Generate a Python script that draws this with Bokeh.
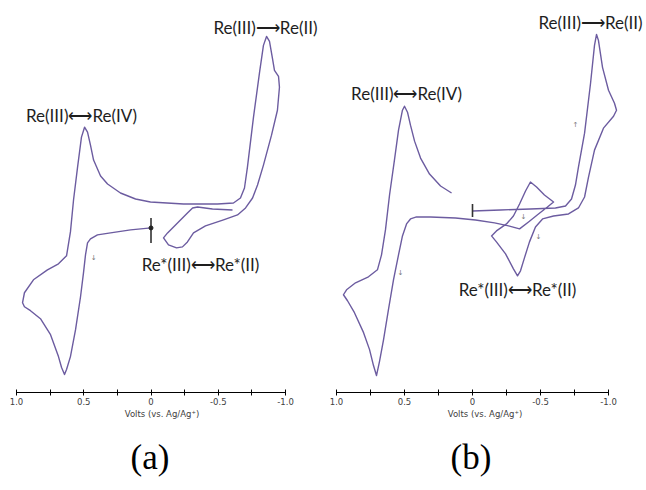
from bokeh.plotting import figure
from bokeh.models import FixedTicker, Label, Range1d, Title
from bokeh.layouts import row
from bokeh.embed import file_html
from bokeh.resources import INLINE

# ---------------- data (volts vs Ag/Ag+, current in arbitrary units) ----------------
a_volts = [0.00, 0.152, 0.301, 0.398, 0.450, 0.472, 0.487, 0.502, 0.524, 0.561, 0.599, 0.628, 0.643,
           0.665, 0.688, 0.747, 0.822, 0.896, 0.941, 0.955, 0.941, 0.874, 0.770, 0.688, 0.628, 0.599,
           0.576, 0.546, 0.517, 0.494, 0.472, 0.450, 0.427, 0.375, 0.323, 0.227, 0.115, 0.004, -0.242,
           -0.494, -0.613, -0.665, -0.695, -0.717, -0.762, -0.807, -0.836, -0.859, -0.881, -0.903,
           -0.918, -0.948, -0.955, -0.940, -0.896, -0.836, -0.792, -0.755, -0.703, -0.643, -0.539,
           -0.405, -0.316, -0.271, -0.234, -0.190, -0.130, -0.093, -0.123, -0.197, -0.271, -0.309,
           -0.346, -0.457, -0.606]
a_current = [165, 163, 160, 158, 154, 150, 138, 120, 96, 63, 36, 23, 18,
             25, 36, 58, 74, 82, 86, 90, 100, 113, 123, 129, 137, 161,
             193, 226, 256, 266, 261, 248, 233, 217, 209, 200, 194, 191, 189,
             189, 190, 195, 205, 226, 276, 321, 348, 357, 352, 335,
             323, 317, 306, 283, 258, 228, 208, 195, 185, 178, 173,
             167, 160, 151, 146, 145, 148, 155, 160, 170, 180, 185,
             186, 184, 183]

b_volts = [0.000, -0.206, -0.426, -0.610, -0.684, -0.728, -0.757, -0.779, -0.824, -0.868, -0.897,
           -0.912, -0.926, -0.956, -1.000, -1.044, -1.059, -1.037, -0.963, -0.897, -0.853, -0.824,
           -0.779, -0.706, -0.596, -0.515, -0.463, -0.419, -0.382, -0.353, -0.331, -0.301, -0.243,
           -0.176, -0.140, -0.176, -0.250, -0.301, -0.346, -0.390, -0.426, -0.471, -0.529, -0.596,
           -0.551, -0.485, -0.412, -0.346, -0.265, -0.162, -0.022, 0.125, 0.309, 0.412, 0.456, 0.485,
           0.515, 0.544, 0.581, 0.618, 0.654, 0.684, 0.706, 0.728, 0.757, 0.801, 0.868, 0.919, 0.949,
           0.926, 0.860, 0.765, 0.699, 0.669, 0.640, 0.610, 0.574, 0.544, 0.515, 0.500, 0.478, 0.456,
           0.426, 0.382, 0.316, 0.235, 0.154]
b_current = [182, 183, 184, 185, 187, 194, 208, 226, 260, 310, 348,
             359, 353, 326, 303, 290, 283, 277, 265, 243, 216, 196,
             185, 179, 177, 174, 166, 151, 135, 122, 117, 124, 139,
             151, 157, 162, 169, 177, 189, 202, 211, 206, 198, 191,
             186, 179, 171, 164, 167, 170, 173, 175, 176, 176, 174, 169,
             157, 138, 113, 83, 53, 31, 17, 27, 43, 60, 80, 92, 98,
             103, 110, 116, 123, 138, 163, 198, 233, 263, 283, 287, 281, 268,
             252, 235, 219, 207, 200]

# start-potential marker (0 V) for each scan
a_marker_current = [150, 175]
a_start_point = 165
b_marker_current = [176, 189]

# peak annotations
a_labels = ["Re(III)\u27f7Re(IV)", "Re(III)\u27f6Re(II)", "Re*(III)\u27f7Re*(II)"]
a_label_volts = [0.517, -0.851, -0.368]
a_label_current = [278, 366, 128]
b_labels = ["Re(III)\u27f7Re(IV)", "Re(III)\u27f6Re(II)", "Re*(III)\u27f7Re*(II)"]
b_label_volts = [0.485, -0.868, -0.331]
b_label_current = [300, 371, 103]

# small scan-direction arrows
a_arrows = ["\u2193"]
a_arrow_volts = [0.427]
a_arrow_current = [135]
b_arrows = ["\u2193", "\u2193", "\u2193", "\u2191"]
b_arrow_volts = [0.529, -0.375, -0.485, -0.757]
b_arrow_current = [120, 176, 156, 268]

major_ticks = [1.0, 0.5, 0.0, -0.5, -1.0]
major_tick_labels = ["1.0", "0.5", "0", "-0.5", "-1.0"]
minor_ticks = [0.75, 0.25, -0.25, -0.75]
x_label = "Volts (vs. Ag/Ag\u207a)"
panel_names = ["(a)", "(b)"]

CURVE = "#6c5ca0"
TEXT = "#1e1e1e"


def make_panel(xs, ys, mk, start_pt, labels, lv, lc, arrows, av, ac, x0, x1, width, name, name_off):
    p = figure(width=width, height=490, output_backend="svg", toolbar_location=None,
               x_range=Range1d(x0, x1), y_range=Range1d(0, 393),
               y_axis_location=None, min_border_left=0, min_border_right=0,
               min_border_top=0, min_border_bottom=97)
    p.grid.visible = False
    p.outline_line_color = None
    p.background_fill_color = "white"
    p.border_fill_color = "white"

    p.line(xs, ys, line_color=CURVE, line_width=1.4, line_join="round")
    p.segment(x0=[0.0], y0=[mk[0]], x1=[0.0], y1=[mk[1]], line_color="#333333", line_width=1.6)
    if start_pt is not None:
        p.scatter([0.0], [start_pt], size=4, color="#222222")

    for t, x, y in zip(labels, lv, lc):
        p.add_layout(Label(x=x, y=y, text=t, text_align="center", text_baseline="middle",
                           text_font="Lato", text_font_size="17px", text_color=TEXT))
    for t, x, y in zip(arrows, av, ac):
        p.add_layout(Label(x=x, y=y, text=t, text_align="center", text_baseline="middle",
                           text_font="DejaVu Sans", text_font_size="7px", text_color="#777777"))

    ax = p.xaxis[0]
    ax.bounds = (-1.0, 1.0)
    ax.ticker = FixedTicker(ticks=major_ticks, minor_ticks=minor_ticks)
    ax.major_label_overrides = {t: s for t, s in zip(major_ticks, major_tick_labels)}
    ax.axis_line_color = "black"
    ax.axis_line_width = 1.2
    ax.major_tick_in = 3
    ax.major_tick_out = 3
    ax.minor_tick_in = 3
    ax.minor_tick_out = 3
    ax.major_tick_line_color = "black"
    ax.minor_tick_line_color = "black"
    ax.major_label_standoff = 2
    ax.major_label_text_font = "DejaVu Sans"
    ax.major_label_text_font_size = "8.5px"
    ax.major_label_text_color = "#404040"
    ax.axis_label = x_label
    ax.axis_label_standoff = 1
    ax.axis_label_text_font = "DejaVu Sans"
    ax.axis_label_text_font_size = "8.5px"
    ax.axis_label_text_font_style = "normal"
    ax.axis_label_text_color = "#404040"

    p.add_layout(Title(text=name, align="left", offset=name_off, standoff=28,
                       text_font="Liberation Serif", text_font_size="35px",
                       text_font_style="normal", text_color="black"), "below")
    return p


pa = make_panel(a_volts, a_current, a_marker_current, a_start_point, a_labels, a_label_volts,
                a_label_current, a_arrows, a_arrow_volts, a_arrow_current,
                1.119, -1.2825, 323, panel_names[0], 130)
pb = make_panel(b_volts, b_current, b_marker_current, None, b_labels, b_label_volts,
                b_label_current, b_arrows, b_arrow_volts, b_arrow_current,
                1.0956, -1.2794, 323, panel_names[1], 127)

layout = row(pa, pb)
open("out.html", "w").write(file_html(layout, INLINE))
